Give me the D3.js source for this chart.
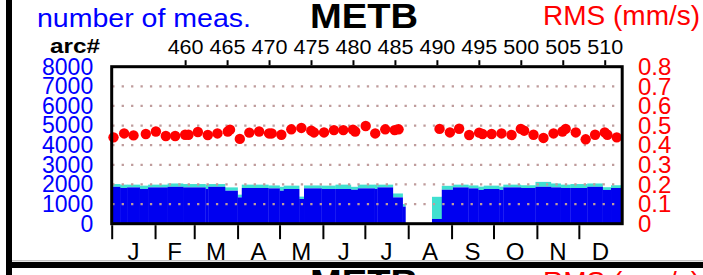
<!DOCTYPE html>
<html><head><meta charset="utf-8">
<script src="https://cdn.jsdelivr.net/npm/d3@7"></script>
<style>
html,body{margin:0;padding:0;background:#fff;}
svg{display:block;font-family:"Liberation Sans",Arial,Helvetica,sans-serif;}
</style></head>
<body>
<script>
// ---- data ----
const stationName = "METB";
const monthLabels = ["J","F","M","A","M","J","J","A","S","O","N","D"];
const monthStartDays = [0,31,59,90,120,151,181,212,243,273,304,334,365];
const arcTicks = [460,465,470,475,480,485,490,495,500,505,510];
const countTicks = [0,1000,2000,3000,4000,5000,6000,7000,8000];
const rmsTicks = [0,0.1,0.2,0.3,0.4,0.5,0.6,0.7,0.8];
// step segments of number of measurements (start day of each step)
const segStartDays = [0,6,11,20,26,40,51,67,69,81,90,93,112,120,123,134,137.5,150,160,171,176,188,190,201,208,210,229,236,244,255,262,266,277,280,292.5,303,314,321,328,340,351,357];
const darkCounts = [1880,1820,1850,1770,1850,1880,1850,1770,1880,1680,1340,1820,1800,1680,1770,1260,1800,1770,1770,1730,1800,1770,1850,1340,870,0,240,1730,1850,1800,1720,1770,1720,1850,1820,1880,1850,1820,1820,1880,1720,1820];
const lightCounts = [140,170,140,170,140,170,170,220,140,170,140,170,150,200,170,120,150,170,220,150,190,220,140,200,130,0,1130,200,140,150,170,170,170,140,140,250,200,170,200,170,140,140];
// RMS points
const rmsDays = [1.3,8.9,15.6,24.4,31.6,38.7,45.4,52.5,54.9,61.6,68.7,75.6,83,84.6,91.6,98.4,105.4,112.5,114.4,121.3,128.4,135.6,142.7,144.6,151.8,158.9,165.6,172.5,174.1,181.6,188.4,195.6,202.3,205.1,234.4,241.8,248.4,255.6,262.7,265.1,271.6,278.7,285.9,292.5,294.9,301.6,308.7,315.9,322.3,324.6,331.8,338.9,345.6,352.5,354.4,361.1];
const rmsValues = [0.440,0.460,0.450,0.457,0.470,0.447,0.447,0.453,0.453,0.467,0.452,0.460,0.470,0.479,0.432,0.464,0.470,0.460,0.460,0.453,0.481,0.488,0.474,0.465,0.465,0.477,0.477,0.479,0.470,0.498,0.460,0.481,0.477,0.481,0.483,0.465,0.484,0.452,0.464,0.457,0.457,0.460,0.452,0.483,0.474,0.453,0.437,0.460,0.470,0.483,0.465,0.430,0.453,0.465,0.453,0.440];
const arcAtDayZero = 451.25, daysPerArc = 6;

// ---- layout ----
const W = 703, H = 275;
const L = 111.7, R = 622.2, T = 66.7, B = 223.7;
const svg = d3.select("body").append("svg").attr("width", W).attr("height", H);

const x = d3.scaleLinear().domain([0,365]).range([L,R]);
const xArc = d3.scaleLinear().domain([arcAtDayZero, arcAtDayZero + 365/daysPerArc]).range([L,R]);
const yC = d3.scaleLinear().domain([0,8000]).range([B,T]);
const yR = d3.scaleLinear().domain([0,0.8]).range([B,T]);

// outer frame
svg.append("rect").attr("x",6).attr("y",0).attr("width",6).attr("height",H).attr("fill","#000");
svg.append("rect").attr("x",6).attr("y",262).attr("width",W-6).attr("height",6).attr("fill","#000");
svg.append("line").attr("x1",12).attr("x2",W).attr("y1",260.8).attr("y2",260.8).attr("stroke","#aaa").attr("stroke-width",1);

// titles
svg.append("text").attr("x",37).attr("y",27).attr("font-size",25).attr("fill","#0000ff")
  .attr("textLength",214).attr("lengthAdjust","spacingAndGlyphs").text("number of meas.");
svg.append("text").attr("x",310).attr("y",28).attr("font-size",35).attr("font-weight","bold").attr("fill","#000")
  .attr("textLength",108).attr("lengthAdjust","spacingAndGlyphs").text(stationName);
svg.append("text").attr("x",543).attr("y",25).attr("font-size",28).attr("fill","#ff0000").text("RMS (mm/s)");
svg.append("text").attr("x",50).attr("y",53).attr("font-size",20).attr("font-weight","bold").attr("fill","#000")
  .attr("textLength",50).attr("lengthAdjust","spacingAndGlyphs").text("arc#");
// next panel (cut by the window)
svg.append("text").attr("x",310).attr("y",294).attr("font-size",35).attr("font-weight","bold").attr("fill","#000")
  .attr("textLength",108).attr("lengthAdjust","spacingAndGlyphs").text(stationName);
svg.append("text").attr("x",543).attr("y",291).attr("font-size",28).attr("fill","#ff0000").text("RMS (mm/s)");

// bars
const segs = segStartDays.map((s,i)=>({s, e: i<segStartDays.length-1 ? segStartDays[i+1] : 365, d: darkCounts[i], l: lightCounts[i]}));
const gb = svg.append("g");
gb.selectAll("rect.l").data(segs).enter().append("rect")
  .attr("x",d=>x(d.s)).attr("width",d=>x(d.e)-x(d.s)+0.3)
  .attr("y",d=>yC(d.d+d.l)).attr("height",d=>yC(d.d)-yC(d.d+d.l))
  .attr("fill","#40e0d0");
gb.selectAll("rect.d").data(segs).enter().append("rect")
  .attr("x",d=>x(d.s)).attr("width",d=>x(d.e)-x(d.s)+0.3)
  .attr("y",d=>yC(d.d)).attr("height",d=>yC(0)-yC(d.d))
  .attr("fill","#0000f0");

// dotted grid
svg.append("g").selectAll("line").data(countTicks.slice(1,-1)).enter().append("line")
  .attr("x1",L+0.5).attr("x2",R-1.5).attr("y1",d=>yC(d)).attr("y2",d=>yC(d))
  .attr("stroke","#bf9c9c").attr("stroke-width",2.3).attr("stroke-dasharray","2.3,7.13");

// RMS points
svg.append("g").selectAll("circle").data(rmsDays.map((d,i)=>[d,rmsValues[i]])).enter().append("circle")
  .attr("cx",d=>x(d[0])).attr("cy",d=>yR(d[1])).attr("r",5.2).attr("fill","#ff0000");

// plot frame
svg.append("rect").attr("x",L).attr("y",T).attr("width",R-L).attr("height",B-T)
  .attr("fill","none").attr("stroke","#000").attr("stroke-width",3);

// top arc axis
const gTop = svg.append("g").attr("transform",`translate(0,${T-1.5})`)
  .call(d3.axisTop(xArc).tickValues(arcTicks).tickSize(5).tickPadding(6).tickFormat(d3.format("d")));
gTop.select(".domain").remove();
gTop.selectAll("line").attr("stroke","#000").attr("stroke-width",2);
gTop.selectAll("text").attr("font-size",20.5).attr("fill","#000").attr("font-family",null)
  .attr("textLength",36).attr("lengthAdjust","spacingAndGlyphs");

// left count axis
const gL = svg.append("g").attr("transform",`translate(${L},0)`)
  .call(d3.axisLeft(yC).tickValues(countTicks).tickSize(0).tickPadding(18.5).tickFormat(d3.format("d")));
gL.select(".domain").remove();
gL.selectAll("text").attr("font-size",23).attr("fill","#0000ff").attr("font-family",null);

// right RMS axis
const gR = svg.append("g").attr("transform",`translate(${R},0)`)
  .call(d3.axisRight(yR).tickValues(rmsTicks).tickSize(0).tickPadding(15.8).tickFormat(d=>d===0?"0":d3.format(".1f")(d)));
gR.select(".domain").remove();
gR.selectAll("text").attr("font-size",24).attr("fill","#ff0000").attr("font-family",null);

// month ticks and labels
const gB = svg.append("g").attr("transform",`translate(0,${B+1.5})`)
  .call(d3.axisBottom(x).tickValues(monthStartDays.slice(0,-1)).tickSize(14).tickFormat(""));
gB.select(".domain").remove();
gB.selectAll("line").attr("stroke","#000").attr("stroke-width",2);
svg.append("g").selectAll("text").data(monthLabels).enter().append("text")
  .attr("x",(d,i)=>x((monthStartDays[i]+monthStartDays[i+1])/2)).attr("y",260)
  .attr("text-anchor","middle").attr("font-size",24).attr("fill","#000").text(d=>d);
</script>
</body></html>
